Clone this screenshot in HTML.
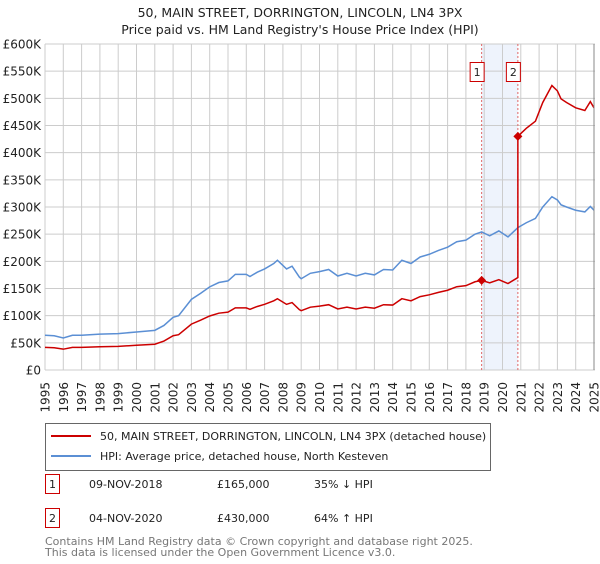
<!DOCTYPE html>
<html><head><meta charset="utf-8"><style>
body{margin:0;background:#fff;width:600px;height:560px;overflow:hidden;font-family:"DejaVu Sans","Liberation Sans",sans-serif}
</style></head><body>
<svg id="c" width="600" height="560" xmlns="http://www.w3.org/2000/svg" font-family="DejaVu Sans, Liberation Sans, sans-serif">
<text x="300" y="17" text-anchor="middle" font-size="12.5" fill="#222">50, MAIN STREET, DORRINGTON, LINCOLN, LN4 3PX</text>
<text x="300" y="34" text-anchor="middle" font-size="12.5" fill="#222">Price paid vs. HM Land Registry's House Price Index (HPI)</text>
<g id="grid"></g><g id="marks"></g><g id="axes"></g>
<g>
<rect x="45.5" y="423.5" width="445" height="47" fill="#fff" stroke="#666"/>
<line x1="51" y1="436" x2="91" y2="436" stroke="#cc0000" stroke-width="2"/>
<text x="100" y="440" font-size="11" fill="#222">50, MAIN STREET, DORRINGTON, LINCOLN, LN4 3PX (detached house)</text>
<line x1="51" y1="456" x2="91" y2="456" stroke="#5b8fd4" stroke-width="2"/>
<text x="100" y="460" font-size="11" fill="#222">HPI: Average price, detached house, North Kesteven</text>
</g>
<g font-size="11" fill="#222">
<rect x="45.5" y="474.5" width="14" height="19" fill="#fff" stroke="#cc0000"/>
<text x="52.5" y="488" text-anchor="middle">1</text>
<text x="89" y="488">09-NOV-2018</text><text x="217" y="488">£165,000</text><text x="314" y="488">35% ↓ HPI</text>
<rect x="45.5" y="508.5" width="14" height="19" fill="#fff" stroke="#cc0000"/>
<text x="52.5" y="522" text-anchor="middle">2</text>
<text x="89" y="522">04-NOV-2020</text><text x="217" y="522">£430,000</text><text x="314" y="522">64% ↑ HPI</text>
</g>
<text x="45" y="545" font-size="11" fill="#777">Contains HM Land Registry data © Crown copyright and database right 2025.</text>
<text x="45" y="556" font-size="11" fill="#777">This data is licensed under the Open Government Licence v3.0.</text>
</svg>
<script>
const hpiYears=[1995,1995.5,1996,1996.5,1997,1998,1999,2000,2001,2001.5,2002,2002.3,2003,2003.5,2004,2004.5,2005,2005.4,2006,2006.2,2006.6,2007,2007.5,2007.7,2008.2,2008.5,2008.9,2009,2009.5,2010,2010.5,2011,2011.5,2012,2012.5,2013,2013.5,2014,2014.5,2015,2015.5,2016,2016.5,2017,2017.5,2018,2018.5,2018.86,2019.3,2019.8,2020.3,2020.84,2021.3,2021.8,2022.2,2022.7,2023,2023.2,2023.5,2024,2024.5,2024.8,2025];
const hpiValues=[64,63,59,64,64,66,67,70,73,82,97,100,130,141,153,161,164,176,176,172,180,186,196,202,186,191,171,168,178,181,185,173,178,173,178,175,185,184,202,196,208,213,220,226,236,239,250,254,247,256,245,262,271,279,300,319,313,304,300,294,291,301,294];
const saleYears=[2018.86,2020.84];
const salePrices=[165,430];
const yTicks=[0,50,100,150,200,250,300,350,400,450,500,550,600];
const yTickLabels=["£0","£50K","£100K","£150K","£200K","£250K","£300K","£350K","£400K","£450K","£500K","£550K","£600K"];
const xTicks=[1995,1996,1997,1998,1999,2000,2001,2002,2003,2004,2005,2006,2007,2008,2009,2010,2011,2012,2013,2014,2015,2016,2017,2018,2019,2020,2021,2022,2023,2024,2025];
const NS="http://www.w3.org/2000/svg";
const X0=45,X1=594,Y0=370,Y1=44;
const xs=y=>X0+(y-1995)/30*(X1-X0);
const ys=v=>Y0-v/600*(Y0-Y1);
function mk(tag,attrs,parent){const e=document.createElementNS(NS,tag);for(const k in attrs)e.setAttribute(k,attrs[k]);parent.appendChild(e);return e;}
const grid=document.getElementById('grid'),marks=document.getElementById('marks'),axes=document.getElementById('axes');
// shaded region
const sh=mk('rect',{x:xs(saleYears[0]),y:Y1,width:xs(saleYears[1])-xs(saleYears[0]),height:Y0-Y1,fill:'#eef3fc'},grid);


yTicks.forEach((t,i)=>{
 const l=mk('line',{x1:X0,x2:X1+1,y1:ys(t),y2:ys(t),stroke:'#cccccc'},grid);
 
 
 const tx=mk('text',{x:41,y:ys(t)+4.5,'text-anchor':'end','font-size':'12',fill:'#222'},axes);
 tx.textContent=yTickLabels[i];
 
 
});
xTicks.forEach(t=>{
 const l=mk('line',{x1:xs(t),x2:xs(t),y1:Y1,y2:Y0,stroke:'#cccccc'},grid);
 
 
 const tx=mk('text',{x:0,y:0,transform:`translate(${xs(t)+4.5},${382}) rotate(-90)`,'text-anchor':'end','font-size':'12',fill:'#222'},axes);
 tx.textContent=String(t);
 
 
});
// sale dashed lines & badges
saleYears.forEach((y,i)=>{
 const l=mk('line',{x1:xs(y),x2:xs(y),y1:Y1,y2:Y0,stroke:'#e06666','stroke-dasharray':'2,2'},marks);
 
 
 const r=mk('rect',{x:xs(y)-11.5,y:62.5,width:14,height:19,fill:'#fff',stroke:'#cc0000'},marks);
 
 
 const t=mk('text',{x:xs(y)-4.5,y:76,'text-anchor':'middle','font-size':'11',fill:'#222'},marks);
 t.textContent=String(i+1);
 
 
});
function hpiAt(y){for(let i=1;i<hpiYears.length;i++){if(y<=hpiYears[i]){const f=(y-hpiYears[i-1])/(hpiYears[i]-hpiYears[i-1]);return hpiValues[i-1]+f*(hpiValues[i]-hpiValues[i-1]);}}return hpiValues[hpiValues.length-1];}
const hp=mk('polyline',{points:hpiYears.map((y,i)=>xs(y)+','+ys(hpiValues[i])).join(' '),fill:'none',stroke:'#5b8fd4','stroke-width':'1.5'},marks);


// price paid indexed by HPI
const r1=salePrices[0]/hpiAt(saleYears[0]),r2=salePrices[1]/hpiAt(saleYears[1]);
let pts=[];
hpiYears.forEach((y,i)=>{if(y<saleYears[1])pts.push([y,hpiValues[i]*r1]);});
pts.push([saleYears[1],hpiAt(saleYears[1])*r1]);
pts.push([saleYears[1],salePrices[1]]);
hpiYears.forEach((y,i)=>{if(y>saleYears[1])pts.push([y,hpiValues[i]*r2]);});
const pp=mk('polyline',{points:pts.map(p=>xs(p[0])+','+ys(p[1])).join(' '),fill:'none',stroke:'#cc0000','stroke-width':'1.5'},marks);


saleYears.forEach((y,i)=>{
 const cx=xs(y),cy=ys(salePrices[i]);
 const d=mk('polygon',{points:`${cx},${cy-4.5} ${cx+4.5},${cy} ${cx},${cy+4.5} ${cx-4.5},${cy}`,fill:'#cc0000'},marks);
 
 
});
const ax=mk('line',{x1:X1,x2:X1,y1:Y1,y2:Y0,stroke:'#888'},axes);


</script>
</body></html>
